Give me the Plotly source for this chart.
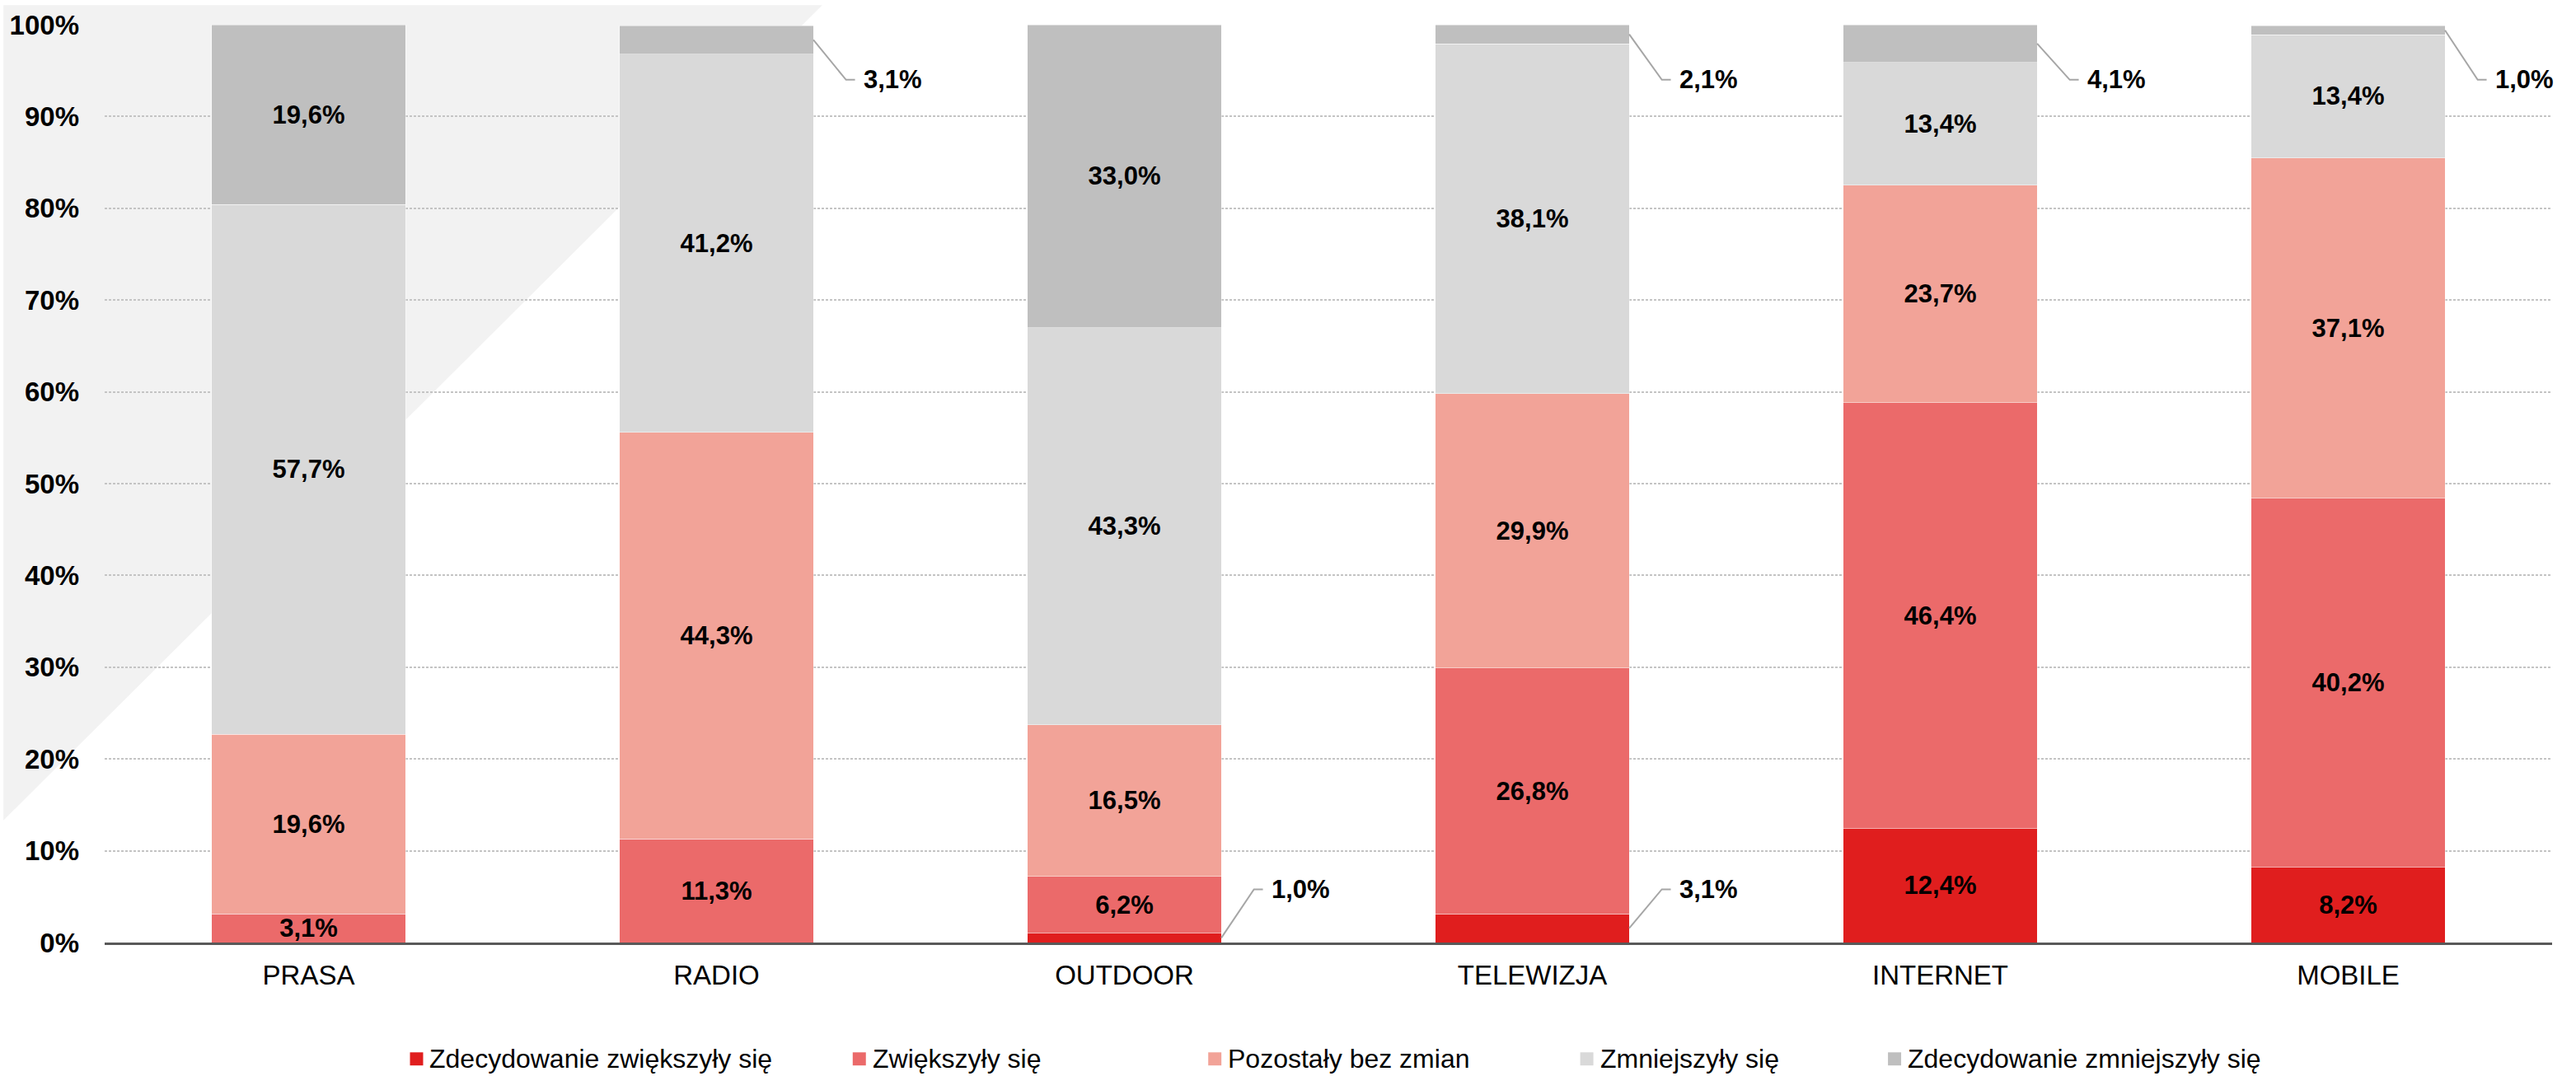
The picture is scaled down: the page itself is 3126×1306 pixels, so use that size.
import plotly.graph_objects as go

# ---- data -------------------------------------------------------------
categories = ["PRASA", "RADIO", "OUTDOOR", "TELEWIZJA", "INTERNET", "MOBILE"]

series_names = [
    "Zdecydowanie zwiększyły się",
    "Zwiększyły się",
    "Pozostały bez zmian",
    "Zmniejszyły się",
    "Zdecydowanie zmniejszyły się",
]

zdecydowanie_zwiekszyly = [0.0, 0.0, 1.0, 3.1, 12.4, 8.2]
zwiekszyly = [3.1, 11.3, 6.2, 26.8, 46.4, 40.2]
pozostaly_bez_zmian = [19.6, 44.3, 16.5, 29.9, 23.7, 37.1]
zmniejszyly = [57.7, 41.2, 43.3, 38.1, 13.4, 13.4]
zdecydowanie_zmniejszyly = [19.6, 3.1, 33.0, 2.1, 4.1, 1.0]

series_values = [
    zdecydowanie_zwiekszyly,
    zwiekszyly,
    pozostaly_bez_zmian,
    zmniejszyly,
    zdecydowanie_zmniejszyly,
]

series_colors = ["#e01e1e", "#eb6a6a", "#f2a398", "#d9d9d9", "#bfbfbf"]

# (series index, category index) of segments labelled with a callout line
callouts = [(0, 2), (0, 3), (4, 1), (4, 3), (4, 4), (4, 5)]

y_ticks = list(range(0, 101, 10))

# ---- layout constants ---------------------------------------------------
W, H = 3126, 1306
M_L, M_R, M_T, M_B = 123, 29, 24, 162
PLOT_W = W - M_L - M_R
PLOT_H = H - M_T - M_B
BAR_W = 0.475

NARROW = "Liberation Sans Narrow, Liberation Sans, Arial, sans-serif"
REGULAR = "Liberation Sans, Arial, sans-serif"


def px_x(px):
    return (px - M_L) / PLOT_W


def px_y(py):
    return (H - M_B - py) / PLOT_H


def fmt(v):
    return f"{v:.1f}".replace(".", ",") + "%"


fig = go.Figure()

# stacked bars
for s, (name, values, color) in enumerate(zip(series_names, series_values, series_colors)):
    texts = []
    for c, v in enumerate(values):
        if v <= 0 or (s, c) in callouts:
            texts.append("")
        else:
            texts.append(fmt(v))
    fig.add_trace(
        go.Bar(
            x=list(range(len(categories))),
            y=values,
            name=name,
            width=BAR_W,
            marker=dict(color=color, line=dict(color="rgba(255,255,255,0.45)", width=1)),
            text=texts,
            textposition="inside",
            insidetextanchor="middle",
            textangle=0,
            constraintext="none",
            textfont=dict(family=NARROW, size=31, color="#000000", weight="bold"),
            showlegend=False,
            hoverinfo="skip",
        )
    )

# callout lines and labels for thin segments
annotations = []
for s, c in callouts:
    base = sum(series_values[k][c] for k in range(s))
    v = series_values[s][c]
    mid = base + v / 2
    elbow = 94.0 if mid > 50 else 5.8
    x0 = c + BAR_W / 2
    fig.add_trace(
        go.Scatter(
            x=[x0, x0 + 0.08, x0 + 0.102],
            y=[mid, elbow, elbow],
            mode="lines",
            line=dict(color="#a6a6a6", width=2),
            showlegend=False,
            hoverinfo="skip",
        )
    )
    annotations.append(
        dict(
            x=x0 + 0.12,
            y=elbow,
            xref="x",
            yref="y",
            text=fmt(v),
            showarrow=False,
            xanchor="left",
            yanchor="middle",
            font=dict(family=NARROW, size=31, color="#000000", weight="bold"),
        )
    )

# custom legend row
legend_left_px = [494, 1032, 1464, 1916, 2290]
legend_cy = 1286
sq = 16
shapes = [
    # light grey corner triangle in the background
    dict(
        type="path",
        xref="paper",
        yref="paper",
        path=f"M {px_x(0)},{px_y(0)} L {px_x(995)},{px_y(0)} L {px_x(0)},{px_y(995)} Z",
        fillcolor="#f2f2f2",
        line=dict(width=0),
        layer="below",
    )
]
for name, color, lx in zip(series_names, series_colors, legend_left_px):
    shapes.append(
        dict(
            type="rect",
            xref="paper",
            yref="paper",
            x0=px_x(lx),
            x1=px_x(lx + sq),
            y0=px_y(legend_cy + sq / 2),
            y1=px_y(legend_cy - sq / 2),
            fillcolor=color,
            line=dict(width=0),
        )
    )
    annotations.append(
        dict(
            x=px_x(lx + 22),
            y=px_y(legend_cy),
            xref="paper",
            yref="paper",
            text=name,
            showarrow=False,
            xanchor="left",
            yanchor="middle",
            font=dict(family=REGULAR, size=32, color="#000000"),
        )
    )

fig.update_layout(
    width=W,
    height=H,
    margin=dict(l=M_L, r=M_R, t=M_T, b=M_B),
    barmode="stack",
    paper_bgcolor="#ffffff",
    plot_bgcolor="rgba(0,0,0,0)",
    shapes=shapes,
    annotations=annotations,
    xaxis=dict(
        range=[-0.5, 5.5],
        tickvals=list(range(len(categories))),
        ticktext=categories,
        tickfont=dict(family=REGULAR, size=33, color="#000000"),
        showgrid=False,
        zeroline=False,
        showline=True,
        linecolor="#595959",
        linewidth=3,
        ticks="",
        ticklabelstandoff=8,
    ),
    yaxis=dict(
        range=[0, 100],
        tickvals=y_ticks,
        ticktext=[f"{t}%" for t in y_ticks],
        tickfont=dict(family=NARROW, size=33, color="#000000", weight="bold"),
        showgrid=True,
        gridcolor="#c4c4c4",
        gridwidth=1.5,
        griddash="3px,2px",
        zeroline=False,
        ticks="",
        ticklabelstandoff=30,
    ),
)

fig.write_html("out.html")
